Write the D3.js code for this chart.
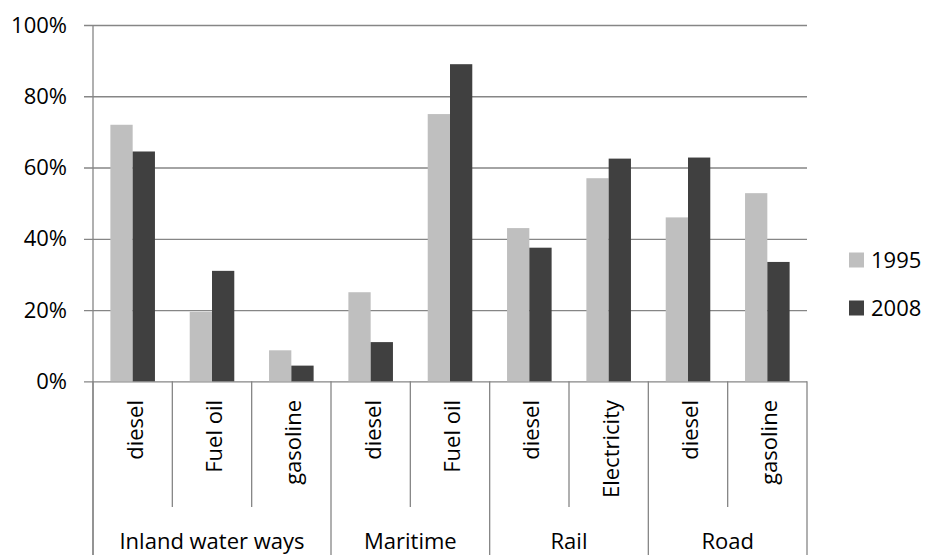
<!DOCTYPE html>
<html>
<head>
<meta charset="utf-8">
<script src="https://cdn.jsdelivr.net/npm/d3@7"></script>
<style>
  html, body { margin: 0; padding: 0; background: #fff; }
  svg { display: block; }
  text { font-family: "Open Sans", "Noto Sans", sans-serif; fill: #000; }
</style>
</head>
<body>
<svg id="chart" width="925" height="555"></svg>
<script>
// Transport modes and the fuel types shown under each
const groups = ["Inland water ways", "Maritime", "Rail", "Road"];
const groupSizes = [3, 2, 2, 2];
const fuels = ["diesel", "Fuel oil", "gasoline", "diesel", "Fuel oil", "diesel", "Electricity", "diesel", "gasoline"];

// Shares (%) per fuel type
const seriesNames = ["1995", "2008"];
const values1995 = [72, 19.5, 8.7, 25, 75, 43, 57, 46, 52.8];
const values2008 = [64.5, 31, 4.4, 11, 89, 37.5, 62.5, 62.8, 33.5];
const yTicks = [0, 20, 40, 60, 80, 100];

const colors = ["#bfbfbf", "#404040"];
const gridColor = "#868686";
const fontSize = 22;

const svg = d3.select("#chart");
const plotLeft = 93, plotRight = 807, plotTop = 25, plotBottom = 381.3;

const idx = d3.range(fuels.length);
const x = d3.scaleBand().domain(idx).range([plotLeft, plotRight]).paddingInner(0).paddingOuter(0);
const y = d3.scaleLinear().domain([0, 100]).range([plotBottom, plotTop]);
const xs = d3.scaleBand().domain(seriesNames).range([0, x.bandwidth()]).paddingInner(0).paddingOuter(0.78);

// horizontal gridlines and y labels
const yAxis = d3.axisLeft(y).tickValues(yTicks).tickFormat(d => d + "%")
  .tickSize(-(plotRight - plotLeft)).tickPadding(26);
const gy = svg.append("g").attr("transform", `translate(${plotLeft},0)`).call(yAxis);
gy.select(".domain").remove();
gy.selectAll(".tick line").attr("stroke", gridColor).attr("stroke-width", 1.3).attr("x1", -9);
gy.selectAll(".tick text").attr("font-size", fontSize).attr("font-family", "Open Sans").attr("fill", "#000");

// vertical axis line
svg.append("line").attr("x1", plotLeft).attr("x2", plotLeft).attr("y1", plotTop).attr("y2", 555)
  .attr("stroke", gridColor).attr("stroke-width", 1.3);

// bars
const data = [values1995, values2008];
data.forEach((vals, s) => {
  svg.append("g").selectAll("rect").data(vals).join("rect")
    .attr("x", (d, i) => x(i) + xs(seriesNames[s]))
    .attr("width", xs.bandwidth())
    .attr("y", d => y(d))
    .attr("height", d => y(0) - y(d))
    .attr("fill", colors[s]);
});

// category dividers: short ones between fuels, long ones between groups
const groupStarts = [];
let acc = 0;
groupSizes.forEach(n => { groupStarts.push(acc); acc += n; });
const tickGroup = svg.append("g");
d3.range(fuels.length + 1).forEach(i => {
  const isGroupEdge = i === fuels.length || groupStarts.includes(i);
  const xp = i === fuels.length ? plotRight : x(i);
  tickGroup.append("line")
    .attr("x1", xp).attr("x2", xp)
    .attr("y1", plotBottom).attr("y2", isGroupEdge ? 555 : 507)
    .attr("stroke", gridColor).attr("stroke-width", 1.3);
});

// fuel labels (rotated)
svg.append("g").selectAll("text").data(fuels).join("text")
  .attr("transform", (d, i) => `translate(${x(i) + x.bandwidth() / 2 + 1},400) rotate(-90)`)
  .attr("text-anchor", "end")
  .attr("dominant-baseline", "central")
  .attr("font-size", fontSize)
  .text(d => d);

// group labels
svg.append("g").selectAll("text").data(groups).join("text")
  .attr("x", (d, g) => {
    const a = groupStarts[g], b = a + groupSizes[g];
    const x1 = x(a), x2 = b === fuels.length ? plotRight : x(b);
    return (x1 + x2) / 2;
  })
  .attr("y", 549)
  .attr("text-anchor", "middle")
  .attr("font-size", fontSize)
  .text(d => d);

// legend
const legend = svg.append("g").selectAll("g").data(seriesNames).join("g")
  .attr("transform", (d, i) => `translate(849,${252.5 + i * 48})`);
legend.append("rect").attr("width", 15).attr("height", 15).attr("fill", (d, i) => colors[i]);
legend.append("text").attr("x", 22).attr("y", 15).attr("font-size", fontSize).text(d => d);
</script>
</body>
</html>
